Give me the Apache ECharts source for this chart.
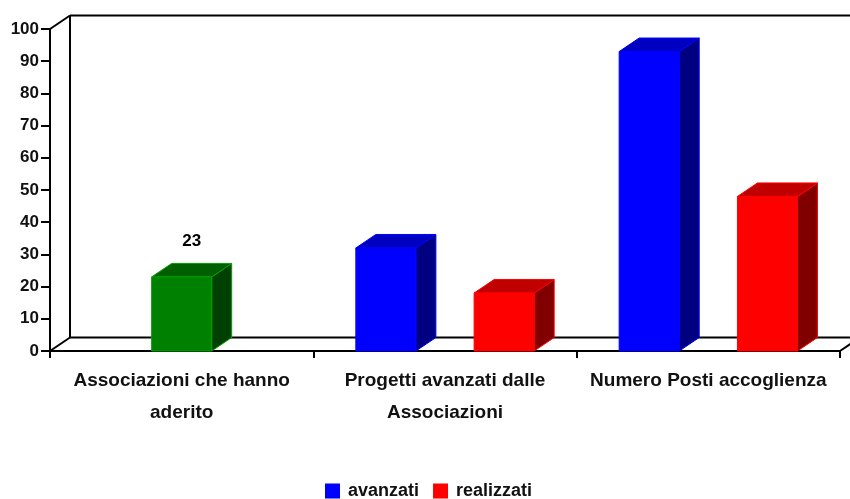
<!DOCTYPE html>
<html lang="it">
  <head>
    <meta charset="utf-8">
    <title>Associazioni e posti accoglienza</title>
    <style>
      html, body { margin: 0; padding: 0; background: #fff; }
      #main { width: 850px; height: 499px; }
    </style>
  </head>
  <body>
    <div id="main"></div>
    <script src="https://cdn.jsdelivr.net/npm/echarts@6/dist/echarts.min.js"></script>
    <script>
      // dati
      var categories = ['Associazioni che hanno\naderito', 'Progetti avanzati dalle\nAssociazioni', 'Numero Posti accoglienza'];
      var aderito = [23, null, null];
      var avanzati = [null, 32, 93];
      var realizzati = [null, 18, 48];

      var FONT = "'Liberation Sans', Arial, sans-serif";
      var DX = 20, DY = 13.5;   // profondita' 3D
      var BAR_W = 0.228;        // larghezza barra (frazione della categoria)

      function toData(arr) {
        return arr.map(function (v, i) { return [i, v]; });
      }

      // barra 3D: faccia frontale, tetto e lato
      function bar3d(offset, col, showLabel) {
        return function (params, api) {
          var v = api.value(1);
          if (v == null || isNaN(v)) return;
          var band = api.size([1, 0])[0];
          var base = api.coord([api.value(0), 0]);
          var top = api.coord([api.value(0), v]);
          var w = band * BAR_W;
          var x1 = base[0] + offset * band - w / 2;
          var x2 = x1 + w;
          var yt = top[1], yb = base[1];
          var edge = { stroke: col.edge, lineWidth: 1 };
          var children = [
            { type: 'polygon', shape: { points: [[x2, yt], [x2 + DX, yt - DY], [x2 + DX, yb - DY], [x2, yb]] },
              style: Object.assign({ fill: col.side }, edge) },
            { type: 'polygon', shape: { points: [[x1, yt], [x1 + DX, yt - DY], [x2 + DX, yt - DY], [x2, yt]] },
              style: Object.assign({ fill: col.top }, edge) },
            { type: 'rect', shape: { x: x1, y: yt, width: w, height: yb - yt },
              style: Object.assign({ fill: col.front }, edge) }
          ];
          if (showLabel) {
            children.push({
              type: 'text',
              style: {
                x: x1 + w / 2 + DX / 2, y: yt - DY - 22,
                text: String(v), fill: '#000',
                font: 'bold 17px ' + FONT,
                align: 'center', verticalAlign: 'middle'
              }
            });
          }
          return { type: 'group', children: children };
        };
      }

      // pareti di fondo e pavimento
      function frame(params, api) {
        var cs = params.coordSys;
        var l = cs.x, r = cs.x + cs.width, t = cs.y, b = cs.y + cs.height;
        var st = { stroke: '#000', lineWidth: 2 };
        var segs = [
          [[l + DX, t - DY], [l + DX, b - DY]],
          [[l + DX, t - DY], [r + DX + 30, t - DY]],
          [[l + DX, b - DY], [r + DX + 30, b - DY]],
          [[l, b], [l + DX, b - DY]],
          [[l, t], [l + DX, t - DY]],
          [[r, b], [r + DX, b - DY]]
        ];
        return {
          type: 'group',
          children: segs.map(function (s) {
            return { type: 'line', shape: { x1: s[0][0], y1: s[0][1], x2: s[1][0], y2: s[1][1] }, style: st };
          })
        };
      }

      var myChart = echarts.init(document.getElementById('main'));

      var option = {
        animation: false,
        backgroundColor: '#fff',
        grid: { left: 50, right: 10, top: 29, bottom: 148 },
        legend: {
          left: 320, top: 477,
          itemWidth: 15, itemHeight: 15, itemGap: 14,
          icon: 'rect',
          textStyle: { fontFamily: FONT, fontSize: 18, fontWeight: 'bold', color: '#111', lineHeight: 18, padding: [0, 0, 0, 3] },
          data: [
            { name: 'avanzati', itemStyle: { color: '#0000ff' } },
            { name: 'realizzati', itemStyle: { color: '#ff0000' } }
          ]
        },
        xAxis: {
          type: 'category',
          data: categories,
          axisLine: { lineStyle: { color: '#000', width: 2 } },
          axisTick: { show: true, length: 7, lineStyle: { color: '#000', width: 2 } },
          axisLabel: {
            interval: 0, margin: 14, color: '#111',
            fontFamily: FONT, fontSize: 19, fontWeight: 'bold', lineHeight: 32
          }
        },
        yAxis: {
          type: 'value',
          min: 0, max: 100, interval: 10,
          axisLine: { show: true, lineStyle: { color: '#000', width: 2 } },
          axisTick: { show: true, length: 9, lineStyle: { color: '#000', width: 2 } },
          splitLine: { show: false },
          axisLabel: { margin: 11, color: '#111', fontFamily: FONT, fontSize: 17, fontWeight: 'bold' }
        },
        series: [
          { type: 'custom', name: 'frame', z: 1, silent: true, renderItem: frame, data: [[0, 0]] },
          { type: 'custom', name: 'aderito', z: 2, renderItem: bar3d(0, { front: '#008000', top: '#006000', side: '#004000', edge: '#00a000' }, true),
            itemStyle: { color: '#008000' }, data: toData(aderito) },
          { type: 'custom', name: 'avanzati', z: 2, renderItem: bar3d(-0.2246, { front: '#0000ff', top: '#0000c0', side: '#000080', edge: '#0000ff' }, false),
            itemStyle: { color: '#0000ff' }, data: toData(avanzati) },
          { type: 'custom', name: 'realizzati', z: 2, renderItem: bar3d(0.2246, { front: '#ff0000', top: '#c00000', side: '#800000', edge: '#ff0000' }, false),
            itemStyle: { color: '#ff0000' }, data: toData(realizzati) }
        ]
      };
      myChart.setOption(option);
    </script>
  </body>
</html>
